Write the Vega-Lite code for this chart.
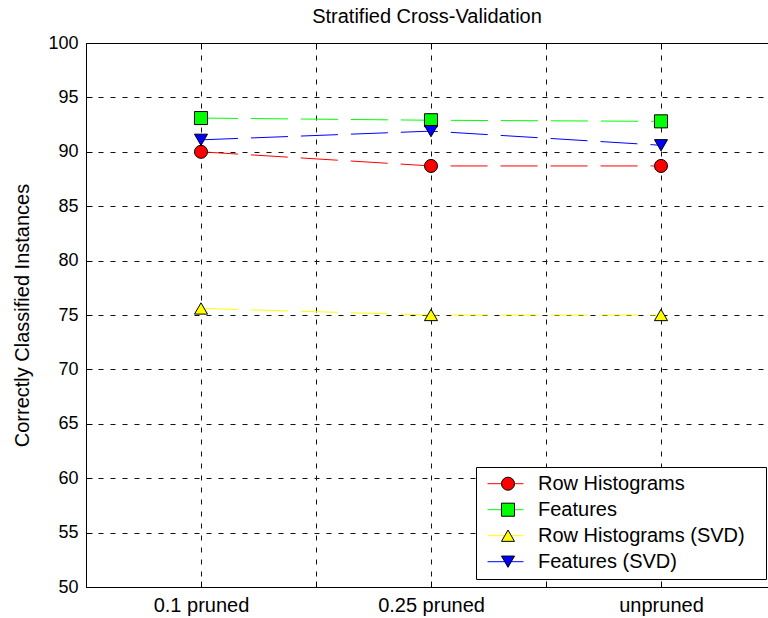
{
  "$schema": "https://vega.github.io/schema/vega-lite/v6.json",
  "width": 682,
  "height": 544,
  "autosize": {"type": "none"},
  "padding": {"left": 86, "top": 43, "right": 0, "bottom": 31},
  "background": "white",
  "config": {
    "view": {"stroke": null},
    "font": "Liberation Sans",
    "axis": {
      "labelFont": "Liberation Sans",
      "titleFont": "Liberation Sans",
      "labelColor": "black",
      "titleColor": "black",
      "domainColor": "black",
      "tickColor": "black",
      "domainWidth": 1,
      "tickWidth": 1
    }
  },
  "title": {
    "text": "Stratified Cross-Validation",
    "font": "Liberation Sans",
    "fontSize": 20,
    "fontWeight": "normal",
    "color": "black",
    "baseline": "alphabetic",
    "offset": -9
  },
  "data": {
    "values": [
      {"x": 1, "y": 90.0, "series": "Row Histograms", "order": 1},
      {"x": 2, "y": 88.7, "series": "Row Histograms", "order": 1},
      {"x": 3, "y": 88.7, "series": "Row Histograms", "order": 1},
      {"x": 1, "y": 93.1, "series": "Features", "order": 2},
      {"x": 2, "y": 92.9, "series": "Features", "order": 2},
      {"x": 3, "y": 92.8, "series": "Features", "order": 2},
      {"x": 1, "y": 75.6, "series": "Row Histograms (SVD)", "order": 3},
      {"x": 2, "y": 75.0, "series": "Row Histograms (SVD)", "order": 3},
      {"x": 3, "y": 75.0, "series": "Row Histograms (SVD)", "order": 3},
      {"x": 1, "y": 91.1, "series": "Features (SVD)", "order": 4},
      {"x": 2, "y": 91.9, "series": "Features (SVD)", "order": 4},
      {"x": 3, "y": 90.6, "series": "Features (SVD)", "order": 4}
    ]
  },
  "encoding": {
    "y": {
      "field": "y",
      "type": "quantitative",
      "scale": {"domain": [50, 100], "nice": false, "zero": false},
      "axis": {
        "orient": "left",
        "values": [50, 55, 60, 65, 70, 75, 80, 85, 90, 95, 100],
        "grid": true,
        "gridColor": "#111",
        "gridDash": [5, 7],
        "gridWidth": 1,
        "tickSize": -6,
        "labelPadding": 14,
        "labelFontSize": 18,
        "title": "Correctly Classified Instances",
        "titleFontSize": 20,
        "titleFontWeight": "normal",
        "titleBaseline": "alphabetic",
        "titleX": -58
      }
    }
  },
  "layer": [
    {
      "mark": {"type": "line", "strokeWidth": 1, "strokeDash": [37, 13]},
      "encoding": {
        "x": {
          "field": "x",
          "type": "quantitative",
          "scale": {"domain": [0.5, 3.4652], "nice": false, "zero": false},
          "axis": {
            "orient": "bottom",
            "values": [1, 1.5, 2, 2.5, 3],
            "labelExpr": "datum.value == 1 ? '0.1 pruned' : datum.value == 2 ? '0.25 pruned' : datum.value == 3 ? 'unpruned' : ''",
            "grid": true,
            "gridColor": "#111",
            "gridDash": [5, 7],
            "gridWidth": 1,
            "tickSize": -6,
            "labelFontSize": 20,
            "labelBaseline": "alphabetic",
            "labelPadding": 30.7,
            "labelFlush": false,
            "labelOverlap": false,
            "title": null
          }
        },
        "color": {
          "field": "series",
          "type": "nominal",
          "scale": {
            "domain": ["Row Histograms", "Features", "Row Histograms (SVD)", "Features (SVD)"],
            "range": ["#ff0000", "#00ff00", "#ffff00", "#0000ff"]
          },
          "legend": {
            "orient": "none",
            "legendX": 390,
            "legendY": 424,
            "title": null,
            "padding": 4,
            "strokeColor": "black",
            "fillColor": "white",
            "symbolType": "stroke",
            "symbolSize": 1296,
            "symbolStrokeWidth": 1,
            "symbolOffset": 7,
            "labelFont": "Liberation Sans",
            "labelFontSize": 20,
            "labelColor": "black",
            "labelLimit": 400,
            "labelOffset": 14,
            "clipHeight": 25.4,
            "rowPadding": 0,
            "encode": {"entries": {"update": {"width": {"value": 282}, "fill": {"value": "transparent"}}}}
          }
        }
      }
    },
    {
      "mark": {"type": "point", "filled": true, "size": 170, "stroke": "black", "strokeWidth": 1, "opacity": 1},
      "encoding": {
        "x": {
          "field": "x",
          "type": "quantitative",
          "scale": {"domain": [0.5, 3.4652], "nice": false, "zero": false},
          "axis": {
            "orient": "top",
            "values": [1, 1.5, 2, 2.5, 3],
            "labels": false,
            "grid": false,
            "tickSize": -6,
            "title": null
          }
        },
        "fill": {
          "field": "series",
          "type": "nominal",
          "sort": {"field": "order", "op": "min"},
          "scale": {"range": ["#ff0000", "#00ff00", "#ffff00", "#0000ff"]},
          "legend": {
            "orient": "none",
            "legendX": 390,
            "legendY": 424,
            "title": null,
            "padding": 4,
            "symbolOffset": 18,
            "symbolSize": 170,
            "symbolStrokeColor": "black",
            "symbolStrokeWidth": 1,
            "symbolOpacity": 1,
            "labelExpr": "''",
            "labelFontSize": 20,
            "clipHeight": 25.4,
            "rowPadding": 0,
            "encode": {"symbols": {"update": {"stroke": {"value": "black"}, "strokeWidth": {"value": 1}}}}
          }
        },
        "shape": {
          "field": "series",
          "type": "nominal",
          "sort": {"field": "order", "op": "min"},
          "scale": {"range": ["circle", "square", "triangle-up", "triangle-down"]},
          "legend": {
            "orient": "none",
            "legendX": 390,
            "legendY": 424,
            "title": null,
            "padding": 4,
            "symbolOffset": 18,
            "symbolSize": 170,
            "symbolStrokeColor": "black",
            "symbolStrokeWidth": 1,
            "symbolOpacity": 1,
            "labelExpr": "''",
            "labelFontSize": 20,
            "clipHeight": 25.4,
            "rowPadding": 0,
            "encode": {"symbols": {"update": {"stroke": {"value": "black"}, "strokeWidth": {"value": 1}}}}
          }
        }
      }
    }
  ],
  "resolve": {"scale": {"x": "independent"}, "axis": {"x": "independent"}}
}
